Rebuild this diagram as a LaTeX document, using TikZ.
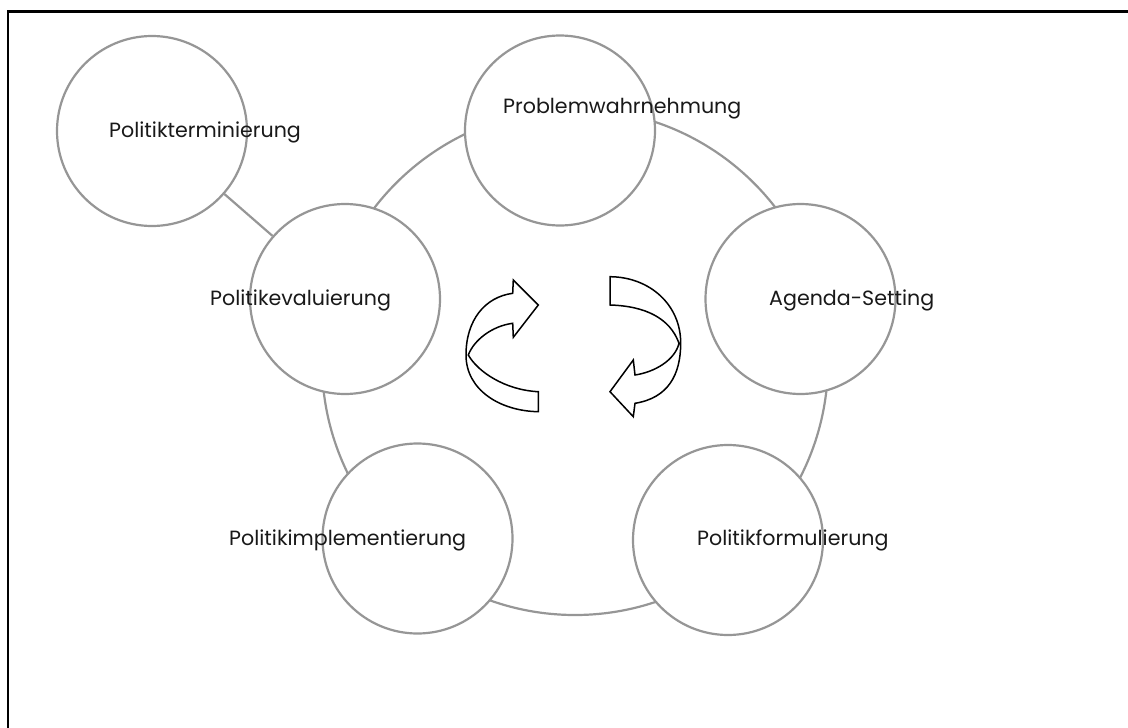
\documentclass[tikz,border=0pt]{standalone}
\usepackage{fontspec}
\setmainfont{Poppins}
\definecolor{ringgray}{HTML}{969696}
\begin{document}
\begin{tikzpicture}[x=1pt,y=-1pt,
  stage/.style={circle, draw=ringgray, line width=2.2pt, fill=white,
    minimum size=190pt, inner sep=0pt},
  stagelabel/.style={anchor=west, inner sep=0pt, text=black!90,
    font=\fontsize{20.6}{24}\selectfont},
  ring/.style={draw=ringgray, line width=2.2pt},
  turn/.style={draw=black, line width=1.5pt, fill=white, line join=miter}]
\useasboundingbox (0,0) rectangle (1128,728);
\clip (0,0) rectangle (1128,728);

% outer frame
\draw[line width=2.5pt] (8,11.5) rectangle (1160,760);

% the cycle ring and the side branch
\draw[ring] (575,362) circle[radius=253];
\node[stage] (term)   at (152,131)   {};
\node[stage] (eval)   at (345,299)   {};
\draw[ring] (term) -- (eval);
\node[stage] (prob)   at (560,130.5) {};
\node[stage] (agenda) at (800.5,299) {};
\node[stage] (form)   at (728,540)   {};
\node[stage] (impl)   at (417.5,538.5) {};

% left turning arrow (pointing right at the top)
\draw[turn] (538.3,411.7) .. controls (500,411) and (466,390) .. (466,355)
  .. controls (466,320) and (485,297) .. (512.7,293.3)
  -- (513.3,280) -- (538.3,305) -- (513.3,337.3) -- (512.7,323.3)
  .. controls (492,326) and (474,340) .. (468.3,355)
  .. controls (478,372) and (505,390) .. (538.3,391.7) -- cycle;

% right turning arrow (pointing left at the bottom)
\draw[turn] (610,276.7) .. controls (650,277) and (680.7,305) .. (680.7,343)
  .. controls (680.7,375) and (668,398) .. (635,403.3)
  -- (633.3,416.7) -- (610,391.7) -- (633.3,360) -- (635,375)
  .. controls (655,372) and (675,360) .. (679,343.3)
  .. controls (670,318) and (645,306) .. (610,305) -- cycle;

% stage labels
\node[stagelabel] (lprob)   at (503,108.5) {Problemwahrnehmung};
\node[stagelabel] (lagenda) at (769,300)   {Agenda-Setting};
\node[stagelabel] (lform)   at (697,540)   {Politikformulierung};
\node[stagelabel] (limpl)   at (229,540)   {Politikimplementierung};
\node[stagelabel] (leval)   at (210,300)   {Politikevaluierung};
\node[stagelabel] (lterm)   at (109,132)   {Politikterminierung};
\end{tikzpicture}
\end{document}
